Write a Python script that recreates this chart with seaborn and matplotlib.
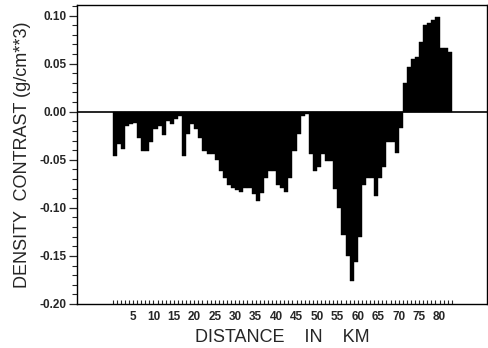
import numpy as np
import pandas as pd
import matplotlib
matplotlib.use('Agg')
import matplotlib.pyplot as plt
import matplotlib.ticker as mticker
import seaborn as sns

# --- data (1 km steps) ---------------------------------------------------------
distance_km = np.arange(83) + 0.5
density = [
    -0.046, -0.034, -0.039, -0.015, -0.013, -0.012, -0.027, -0.041, -0.041, -0.032,
    -0.018, -0.015, -0.024, -0.010, -0.013, -0.008, -0.004, -0.046, -0.023, -0.013,
    -0.018, -0.027, -0.041, -0.044, -0.044, -0.050, -0.062, -0.069, -0.076, -0.079,
    -0.081, -0.083, -0.079, -0.079, -0.086, -0.093, -0.085, -0.069, -0.062, -0.062,
    -0.076, -0.079, -0.083, -0.069, -0.041, -0.023, -0.004, -0.002, -0.044, -0.062,
    -0.057, -0.044, -0.051, -0.051, -0.080, -0.100, -0.128, -0.150, -0.176, -0.156,
    -0.130, -0.076, -0.069, -0.069, -0.088, -0.069, -0.057, -0.032, -0.032, -0.043,
    -0.017, 0.030, 0.046, 0.055, 0.057, 0.072, 0.090, 0.092, 0.095, 0.098,
    0.066, 0.066, 0.062,
]
xtick_vals = list(range(5, 85, 5))
ytick_vals = [-0.20, -0.15, -0.10, -0.05, 0.00, 0.05, 0.10]

df = pd.DataFrame({'Distance': distance_km, 'Density': density})

# --- style ---------------------------------------------------------------------
sns.set_style('ticks')
plt.rcParams.update({
    'font.family': ['Liberation Sans', 'DejaVu Sans'],
    'axes.unicode_minus': False,
    'axes.linewidth': 1.0,
})

fig = plt.figure(figsize=(4.88, 3.48), dpi=100)
ax = fig.add_axes([77 / 488, 1 - 304 / 348, 410 / 488, 299 / 348])

sns.barplot(data=df, x='Distance', y='Density', native_scale=True, width=1.0,
            color='black', edgecolor='black', linewidth=0.3, errorbar=None,
            saturation=1, ax=ax)
ax.axhline(0, color='black', linewidth=1.2, zorder=3)

ax.set_xlim(-8.7, 91.6)
ax.set_ylim(-0.20, 0.111)

ax.xaxis.set_major_locator(mticker.FixedLocator(xtick_vals))
ax.xaxis.set_minor_locator(mticker.FixedLocator(range(0, 84)))
ax.set_xticklabels([str(v) for v in xtick_vals])
ax.tick_params(axis='x', which='both', direction='in', length=3, width=0.8,
               labelsize=8.5, pad=5)

ax.yaxis.set_major_locator(mticker.FixedLocator(ytick_vals))
ax.yaxis.set_minor_locator(mticker.MultipleLocator(0.01))
ax.yaxis.set_major_formatter(mticker.FormatStrFormatter('%.2f'))
ax.tick_params(axis='y', which='major', direction='out', length=6, width=0.9,
               labelsize=8.5, pad=1.5)
ax.tick_params(axis='y', which='minor', direction='out', length=3.5, width=0.8)
for lbl in ax.get_xticklabels() + ax.get_yticklabels():
    lbl.set_fontweight('bold')

for side in ['top', 'right', 'left', 'bottom']:
    ax.spines[side].set_visible(True)
    ax.spines[side].set_color('black')

ax.set_xlabel('DISTANCE    IN    KM', fontsize=13, labelpad=4)
ax.set_ylabel('DENSITY  CONTRAST (g/cm**3)', fontsize=13, labelpad=6)

fig.savefig('out.png', dpi=100)
plt.close(fig)
